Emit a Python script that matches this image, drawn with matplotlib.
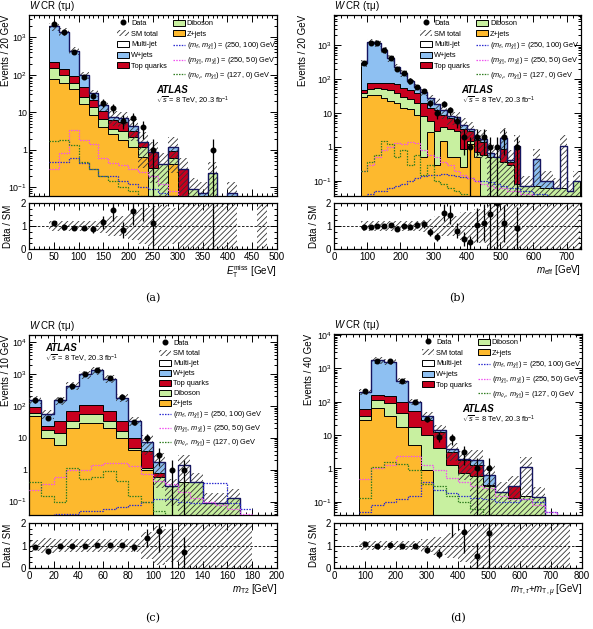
import numpy as np
import matplotlib
matplotlib.use("Agg")
import matplotlib.pyplot as plt
from matplotlib.patches import Patch
from matplotlib.lines import Line2D
from matplotlib.ticker import FuncFormatter, MultipleLocator, LogLocator, NullFormatter

plt.rcParams['font.family'] = ['Liberation Sans', 'DejaVu Sans']
plt.rcParams['mathtext.fontset'] = 'custom'
plt.rcParams['mathtext.rm'] = 'Liberation Sans'
plt.rcParams['mathtext.it'] = 'Liberation Sans:italic'
plt.rcParams['mathtext.bf'] = 'Liberation Sans:bold'
plt.rcParams['hatch.linewidth'] = 0.6

# ---------------- panel (a): ETmiss ----------------
a_edges = list(range(40, 501, 20))
a_zjets = [76, 60, 41, 17, 8.3, 4.0, 2.7, 1.8, 1.2, 0.66, 0, 0, 0.42, 0, 0, 0, 0, 0, 0, 0, 0, 0, 0]
a_diboson = [74, 40, 18, 9, 5.7, 2.6, 0.9, 1.4, 1.0, 0.54, 0.32, 0.42, 0.18, 0, 0.09, 0, 0.24, 0, 0, 0, 0, 0, 0]
a_top = [74, 40, 33, 20, 7, 4.4, 2.5, 2.3, 1.0, 0.4, 0.55, 0, 0.35, 0.31, 0, 0, 0, 0, 0, 0, 0, 0, 0]
a_wjets = [1730, 1280, 350, 52, 12, 4.5, 1.5, 1.7, 1.0, 0.05, 0, 0, 0.25, 0, 0, 0.07, 0, 0, 0.07, 0, 0, 0, 0]
a_multijet = [0] * 23
a_data = [2200, 1350, 410, 90, 28, 18, 13, 6, 7, 4, 1, 0, 0, 0, 0, 0, 1, 0, 0, 0, 0, 0, 0]
a_relunc = [0.23, 0.23, 0.22, 0.22, 0.22, 0.3, 0.45, 0.45, 0.6, 0.8, 0.85, 0.9, 0.8, 1, 1, 1, 1, 1, 1, 0, 0, 1, 0]
a_sig1 = [0.48, 0.48, 0.6, 0.45, 0.3, 0.2, 0.2, 0.15, 0.12, 0.1, 0.09, 0.07, 0.06, 0.05, 0.05, 0.04, 0.03, 0, 0, 0, 0, 0, 0]
a_sig2 = [0.3, 0.8, 3.3, 1.8, 1.4, 0.6, 0.45, 0.4, 0.3, 0.25, 0.2, 0.12, 0.08, 0.06, 0.05, 0.04, 0, 0, 0, 0, 0, 0, 0]
a_sig3 = [1.7, 1.85, 1.35, 0.48, 0.3, 0.2, 0.15, 0.1, 0.08, 0.06, 0.05, 0, 0, 0, 0, 0, 0, 0, 0, 0, 0, 0, 0]

# ---------------- panel (b): meff ----------------
b_edges = list(range(80, 741, 20))
b_zjets = [30, 33, 33, 28, 22, 20, 14, 13, 9, 0.5, 2.8, 0.3, 1.5, 0.5, 0.5, 0.25, 1.2, 0.5, 0.03, 0, 0, 0, 0, 0, 0, 0, 0, 0, 0, 0, 0, 0, 0]
b_diboson = [10, 19, 22, 24, 26, 20, 16, 13, 11, 7.5, 3.2, 2.7, 2.5, 3.0, 2.5, 0.65, 0.3, 0.2, 0.57, 0.5, 0.5, 0.35, 0.3, 0.08, 0.07, 0.07, 0.07, 0.06, 0.06, 0.06, 0.06, 0.05, 0.1]
b_top = [8, 23, 23, 26, 27, 30, 25, 22, 18, 12, 8, 9, 5, 3.5, 3, 2.6, 1.5, 0.9, 0.8, 0, 0, 0.55, 0.05, 0.77, 0, 0, 0, 0, 0, 0, 0, 0, 0]
b_wjets = [252, 1125, 1072, 622, 345, 160, 95, 40, 19, 22, 13, 7, 3, 1, 1.5, 1.0, 0.5, 0.3, 0.35, 0.15, 0, 0.9, 0.05, 0.25, 0, 0, 0.38, 0.04, 0.04, 0, 0, 0, 0]
b_multijet = [0] * 30 + [1.04, 0, 0]
b_data = [290, 1150, 1150, 700, 430, 200, 150, 85, 60, 45, 20, 10, 19, 12, 6, 2, 1, 2, 2, 1, 1, 2, 0, 1, 0, 0, 0, 0, 0, 0, 0, 0, 0]
b_relunc = [0.22] * 9 + [0.25, 0.3, 0.45, 0.45, 0.45, 0.45, 0.6, 0.6, 0.75, 0.75] + [1] * 14
b_sig1 = [0.03, 0.04, 0.05, 0.05, 0.06, 0.07, 0.08, 0.1, 0.12, 0.14, 0.15, 0.15, 0.16, 0.15, 0.14, 0.13, 0.12, 0.1, 0.1, 0.09, 0.08, 0.07, 0.06, 0.06, 0.05, 0.05, 0.04, 0.04, 0.03, 0.03, 0.03, 0.02, 0.02]
b_sig2 = [0.2, 0.3, 0.5, 0.8, 1.0, 1.3, 1.2, 1.4, 1.3, 0.8, 0.6, 0.5, 0.35, 0.3, 0.2, 0.15, 0.12, 0.1, 0.08, 0.07, 0.06, 0.06, 0.05, 0.05, 0.04, 0.04, 0.03, 0.03, 0.03, 0.02, 0.02, 0.02, 0.02]
b_sig3 = [0.2, 0.35, 0.6, 1.5, 1.2, 0.5, 0.8, 0.3, 0.6, 0.15, 0.3, 0.1, 0.08, 0.06, 0.05, 0.04, 0.03] + [0] * 16

# ---------------- panel (c): mT2 ----------------
c_edges = list(range(0, 181, 10))
c_zjets = [50, 10, 6, 20, 30, 30, 20, 10, 4.3, 1.0, 0, 0, 0, 0, 0, 0, 0, 0]
c_diboson = [10, 8, 8, 14, 25, 25, 14, 6, 0.5, 0.1, 0.6, 0.3, 0.4, 0.4, 0.09, 0.09, 0.126, 0]
c_top = [33, 5, 20, 35, 50, 55, 35, 18, 4.8, 2.9, 0.2, 0, 0, 0, 0, 0, 0, 0]
c_wjets = [67, 34, 116, 361, 895, 1230, 661, 151, 24.4, 3.5, 1.0, 0, 0, 0, 0, 0, 0, 0]
c_multijet = [0] * 12 + [1.05] + [0] * 5
c_data = [150, 42, 150, 420, 1000, 1350, 750, 190, 31, 10, 3, 1, 1, 0, 0, 0, 0, 0]
c_relunc = [0.25, 0.33, 0.3, 0.28, 0.27, 0.27, 0.27, 0.28, 0.3, 0.6, 0.85, 0.75, 1, 1, 1, 1, 1, 1]
c_sig1 = [0.03, 0.03, 0.04, 0.04, 0.05, 0.05, 0.06, 0.07, 0.08, 0.1, 0.12, 0.12, 0.1, 0.09, 0.38, 0.38, 0.09, 0.06]
c_sig2 = [0.23, 0.37, 0.6, 0.97, 0.97, 1.4, 1.6, 1.6, 1.3, 0.75, 0.45, 0.35, 0.2, 0.13, 0.1, 0.08, 0.06, 0.04]
c_sig3 = [0.4, 0.15, 0.1, 1.1, 0.5, 0.6, 0.9, 0.45, 0.15, 0.1, 0.05, 0, 0, 0, 0, 0, 0, 0]

# ---------------- panel (d): mT,tau + mT,mu ----------------
d_edges = list(range(80, 761, 40))
d_zjets = [28, 66, 37, 18, 5, 0.9, 0, 0, 0, 0, 0, 0, 0, 0, 0, 0, 0]
d_diboson = [9, 46, 52, 27, 12, 9.1, 4, 1.3, 0.74, 0.6, 0.3, 0.2, 0.13, 0.15, 0.14, 0, 0]
d_top = [23, 48, 61, 55, 35, 18, 8.6, 1.9, 1.06, 0.7, 0.02, 0, 0.17, 0, 0, 0, 0]
d_wjets = [140, 1590, 1430, 320, 48, 9, 1.4, 0.5, 0.05, 0.5, 0.33, 0, 0, 0, 0, 0, 0]
d_multijet = [0] * 13 + [0.95, 0, 0, 0]
d_data = [215, 1700, 1650, 420, 100, 30, 9, 8, 3, 1, 1, 0, 0, 0, 0, 0, 0]
d_relunc = [0.22, 0.22, 0.22, 0.22, 0.22, 0.3, 0.4, 0.55, 0.75, 1, 1, 1, 1, 1, 1, 1, 1]
d_sig1 = [0.05, 0.08, 0.1, 0.12, 0.15, 0.4, 0.22, 0.18, 0.15, 0.13, 0.12, 0.1, 0.1, 0.12, 0.1, 0.05, 0]
d_sig2 = [0.47, 1.0, 1.3, 2.4, 2.4, 1.3, 0.9, 0.5, 0.4, 0.3, 0.25, 0.15, 0.12, 0.12, 0.08, 0.05, 0]
d_sig3 = [0.13, 1.1, 1.6, 1.4, 0.9, 0.35, 0.3, 0.15, 0.1, 0.06, 0.04, 0, 0, 0, 0, 0, 0]

C_Z = '#FDB92E'
C_DIB = '#C8F0A0'
C_TOP = '#C8001E'
C_W = '#8EC0F2'
C_MJ = 'white'
C_S1 = '#2a2ad0'
C_S2 = '#f050f0'
C_S3 = '#2f7d1f'
HATCH_C = '0.2'
TINY = 1e-4

FS_TICK = 7
FS_YTICK = 6.4
FS_LAB = 7
FS_LEG = 5.3

def log_fmt(v, pos):
    if v <= 0:
        return ''
    e = int(round(np.log10(v)))
    if abs(np.log10(v) - e) > 1e-6:
        return ''
    if e == 0:
        return '1'
    if e == 1:
        return '10'
    return r'$10^{%d}$' % e

def style_axis(ax):
    ax.tick_params(which='both', direction='in', top=True, right=True, labelsize=FS_TICK, width=0.7, pad=2)
    ax.tick_params(which='major', length=5)
    ax.tick_params(which='minor', length=2.5)
    for s in ax.spines.values():
        s.set_linewidth(0.9)

def draw(axm, axr, edges, zj, dib, top, wj, mj, data, rel, sigs, xlim, ylim, xmaj, xmin,
         ylab, xlab, lx_main, lx_ratio):
    edges = np.array(edges, float)
    zj, dib, top, wj, mj = [np.array(v, float) for v in (zj, dib, top, wj, mj)]
    data = np.array(data, float)
    rel = np.array(rel, float)
    c1 = zj
    c2 = c1 + dib
    c3 = c2 + top
    c4 = c3 + wj
    c5 = c4 + mj
    for cum, col in [(c5, C_MJ), (c4, C_W), (c3, C_TOP), (c2, C_DIB), (c1, C_Z)]:
        axm.stairs(np.maximum(cum, TINY), edges, baseline=TINY, fill=True,
                   facecolor=col, edgecolor='black', linewidth=0.7, zorder=2)
    lo = np.maximum(c5 * (1 - rel), TINY)
    hi = np.maximum(c5 * (1 + rel), TINY)
    for i in range(len(c5)):
        if c5[i] > 0 and rel[i] > 0:
            axm.fill_between([edges[i], edges[i + 1]], [lo[i]] * 2, [hi[i]] * 2,
                             facecolor='none', edgecolor=HATCH_C, hatch='//////', linewidth=0, zorder=3)
    axm.stairs(np.maximum(c5, TINY), edges, baseline=None, color='#151560', linewidth=1.0, zorder=4)
    for s, col in zip(sigs, [C_S1, C_S2, C_S3]):
        axm.stairs(np.maximum(np.array(s, float), TINY), edges, baseline=None, color=col,
                   linewidth=0.9, linestyle=(0, (1.2, 1.0)), zorder=5)
    centers = 0.5 * (edges[1:] + edges[:-1])
    dm = data > 0
    axm.errorbar(centers[dm], data[dm], yerr=np.sqrt(data[dm]), fmt='o', color='black',
                 ms=3.3, elinewidth=0.9, capsize=0, zorder=6)
    axm.set_yscale('log')
    axm.set_xlim(*xlim)
    axm.set_ylim(*ylim)
    axm.yaxis.set_major_locator(LogLocator(base=10, numticks=20))
    axm.yaxis.set_minor_locator(LogLocator(base=10, subs=np.arange(2, 10), numticks=50))
    axm.yaxis.set_major_formatter(FuncFormatter(log_fmt))
    axm.yaxis.set_minor_formatter(NullFormatter())
    axm.xaxis.set_major_locator(MultipleLocator(xmaj))
    axm.xaxis.set_minor_locator(MultipleLocator(xmin))
    axm.tick_params(labelbottom=False)
    axm.set_ylabel(ylab, fontsize=FS_LAB, loc='top')
    axm.yaxis.set_label_coords(lx_main, 1.0)
    style_axis(axm)
    axm.tick_params(axis='y', labelsize=FS_YTICK, pad=1.5)

    # ratio
    rlo = np.clip(1 - rel, 0, 2)
    rhi = np.clip(1 + rel, 0, 2)
    for i in range(len(rel)):
        if rel[i] > 0:
            axr.fill_between([edges[i], edges[i + 1]], [rlo[i]] * 2, [rhi[i]] * 2,
                             facecolor='none', edgecolor=HATCH_C, hatch='//////', linewidth=0, zorder=2)
    axr.axhline(1, color='black', linestyle=(0, (3, 2)), linewidth=0.6, zorder=3)
    rm = (data > 0) & (c5 > 0)
    ratio = data[rm] / c5[rm]
    rerr = np.sqrt(data[rm]) / c5[rm]
    axr.errorbar(centers[rm], ratio, yerr=rerr, fmt='o', color='black', ms=3.3,
                 elinewidth=0.9, capsize=0, zorder=5)
    axr.set_xlim(*xlim)
    axr.set_ylim(0, 2)
    axr.yaxis.set_major_locator(MultipleLocator(1))
    axr.yaxis.set_minor_locator(MultipleLocator(0.25))
    axr.xaxis.set_major_locator(MultipleLocator(xmaj))
    axr.xaxis.set_minor_locator(MultipleLocator(xmin))
    axr.set_ylabel('Data / SM', fontsize=FS_LAB)
    axr.yaxis.set_label_coords(lx_ratio, 0.5)
    axr.set_xlabel(xlab, fontsize=FS_LAB, loc='right', labelpad=1)
    style_axis(axr)

def legend(ax, two_col, x, y):
    h_data = Line2D([], [], marker='o', color='black', linestyle='none', ms=3.3)
    h_sm = Patch(facecolor='none', edgecolor=HATCH_C, hatch='//////', linewidth=0)
    h_mj = Patch(facecolor='white', edgecolor='black', linewidth=0.7)
    h_w = Patch(facecolor=C_W, edgecolor='black', linewidth=0.7)
    h_t = Patch(facecolor=C_TOP, edgecolor='black', linewidth=0.7)
    h_d = Patch(facecolor=C_DIB, edgecolor='black', linewidth=0.7)
    h_z = Patch(facecolor=C_Z, edgecolor='black', linewidth=0.7)
    ls = (0, (1.2, 1.0))
    h_s1 = Line2D([], [], color=C_S1, linestyle=ls, linewidth=0.9)
    h_s2 = Line2D([], [], color=C_S2, linestyle=ls, linewidth=0.9)
    h_s3 = Line2D([], [], color=C_S3, linestyle=ls, linewidth=0.9)
    l_s1 = r'($m_{\tilde{\tau}}$, $m_{\tilde{\chi}^0_1}$) = (250, 100) GeV'
    l_s2 = r'($m_{\tilde{\chi}^{\pm}_1}$, $m_{\tilde{\chi}^0_1}$) = (250, 50) GeV'
    l_s3 = r'($m_{\tilde{\nu}_{\tau}}$, $m_{\tilde{\chi}^{\pm}_1}$) = (127, 0) GeV'
    handles = [h_data, h_sm, h_mj, h_w, h_t, h_d, h_z, h_s1, h_s2, h_s3]
    labels = ['Data', 'SM total', 'Multi-jet', 'W+jets', 'Top quarks', 'Diboson', 'Z+jets', l_s1, l_s2, l_s3]
    leg = ax.legend(handles, labels, ncol=2 if two_col else 1, loc='upper left',
                    bbox_to_anchor=(x, y), frameon=False, fontsize=FS_LEG,
                    handlelength=1.6, handleheight=0.9, handletextpad=0.3,
                    labelspacing=0.42 if two_col else 0.33, columnspacing=0.8,
                    borderaxespad=0, borderpad=0)
    leg.set_zorder(10)

def atlas(ax, x, y, dy):
    ax.text(x, y, 'ATLAS', transform=ax.transAxes, fontsize=7, fontweight='bold',
            fontstyle='italic', ha='left', va='center', zorder=11)
    ax.text(x, y - dy, r'$\sqrt{s}$ = 8 TeV, 20.3 fb$^{-1}$', transform=ax.transAxes,
            fontsize=5.3, ha='left', va='center', zorder=11)

fig = plt.figure(figsize=(5.93, 6.29), dpi=100)
W, H = 593.0, 629.0

def ax_px(x0, x1, y0, y1):
    return fig.add_axes([x0 / W, 1 - y1 / H, (x1 - x0) / W, (y1 - y0) / H])

axa = ax_px(29, 277, 15, 196); axar = ax_px(29, 277, 203, 249)
axb = ax_px(334, 581, 15, 196); axbr = ax_px(334, 581, 203, 249)
axc = ax_px(29, 277, 335, 515); axcr = ax_px(29, 277, 523, 568)
axd = ax_px(334, 582, 334, 515); axdr = ax_px(334, 582, 523, 568)

draw(axa, axar, a_edges, a_zjets, a_diboson, a_top, a_wjets, a_multijet, a_data, a_relunc,
     [a_sig1, a_sig2, a_sig3], (0, 500), (0.0586, 3930), 50, 10, 'Events / 20 GeV',
     r'$E_{\mathrm{T}}^{\mathrm{miss}}$ [GeV]', -0.073, -0.064)
draw(axb, axbr, b_edges, b_zjets, b_diboson, b_top, b_wjets, b_multijet, b_data, b_relunc,
     [b_sig1, b_sig2, b_sig3], (0, 743), (0.036, 7700), 100, 20, 'Events / 20 GeV',
     r'$m_{\mathrm{eff}}$ [GeV]', -0.105, -0.06)
draw(axc, axcr, c_edges, c_zjets, c_diboson, c_top, c_wjets, c_multijet, c_data, c_relunc,
     [c_sig1, c_sig2, c_sig3], (0, 200), (0.038, 17000), 20, 5, 'Events / 10 GeV',
     r'$m_{\mathrm{T2}}$ [GeV]', -0.073, -0.064)
draw(axd, axdr, d_edges, d_zjets, d_diboson, d_top, d_wjets, d_multijet, d_data, d_relunc,
     [d_sig1, d_sig2, d_sig3], (0, 800), (0.04, 10700), 100, 20, 'Events / 40 GeV',
     r'$m_{\mathrm{T},\tau}$+$m_{\mathrm{T},\mu}$ [GeV]', -0.08, -0.06)

legend(axa, True, 0.355, 0.975)
legend(axb, True, 0.35, 0.975)
legend(axc, False, 0.525, 0.975)
legend(axd, True, 0.355, 0.975)

atlas(axa, 0.512, 0.586, 0.06)
atlas(axb, 0.517, 0.586, 0.06)
atlas(axc, 0.065, 0.93, 0.065)
atlas(axd, 0.517, 0.586, 0.06)

for ax in (axa, axb, axc, axd):
    ax.text(0.0, 1.012, r'$W$ CR (τμ)', transform=ax.transAxes, fontsize=7,
            ha='left', va='bottom')

for lab, x, y in [('(a)', 153, 298), ('(b)', 457, 298), ('(c)', 153, 618), ('(d)', 458, 618)]:
    fig.text(x / W, 1 - y / H, lab, fontsize=8, family='DejaVu Serif', ha='center', va='center')

fig.savefig('out.png', dpi=100)
